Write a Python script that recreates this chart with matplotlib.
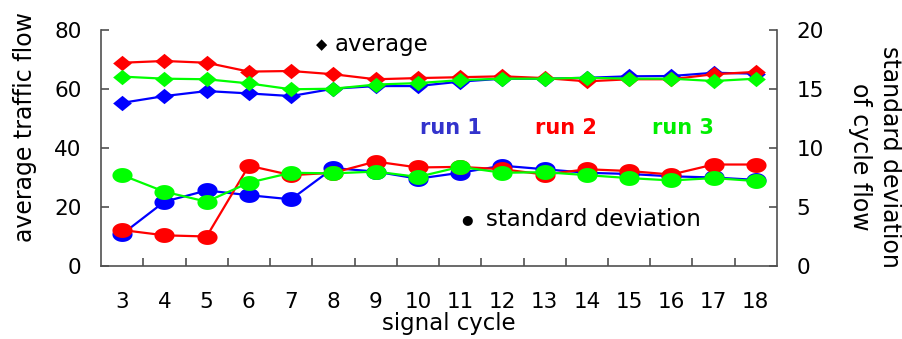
import matplotlib
matplotlib.use("Agg")
import matplotlib.pyplot as plt
from matplotlib.path import Path
import numpy as np

cycles = ["3", "4", "5", "6", "7", "8", "9", "10", "11", "12", "13", "14", "15", "16", "17", "18"]

avg_run1 = [55.3, 57.6, 59.3, 58.5, 57.6, 60.1, 61.0, 61.0, 62.5, 63.5, 63.5, 63.8, 64.3, 64.4, 65.5, 65.2]
avg_run2 = [68.9, 69.5, 68.9, 65.9, 66.1, 65.0, 63.3, 63.7, 64.0, 64.3, 63.7, 62.6, 63.3, 63.3, 65.0, 65.8]
avg_run3 = [64.2, 63.5, 63.3, 61.9, 59.9, 60.1, 61.5, 62.0, 63.0, 63.5, 63.5, 63.8, 63.5, 63.5, 62.7, 63.5]

std_run1 = [2.7, 5.45, 6.4, 6.0, 5.65, 8.3, 8.0, 7.4, 7.9, 8.5, 8.2, 7.9, 7.8, 7.6, 7.5, 7.3]
std_run2 = [3.05, 2.6, 2.5, 8.5, 7.7, 7.9, 8.85, 8.35, 8.4, 8.2, 7.75, 8.2, 8.05, 7.75, 8.6, 8.6]
std_run3 = [7.7, 6.3, 5.45, 7.06, 7.9, 7.85, 8.0, 7.55, 8.4, 7.9, 7.95, 7.7, 7.45, 7.25, 7.45, 7.2]

run_labels = ["run 1", "run 2", "run 3"]
line_colors = ["#0000ff", "#ff0000", "#00ff00"]
text_colors = ["#3333cc", "#ff0000", "#00ee00"]

plt.rcParams['font.family'] = ['DejaVu Sans']

# custom markers: flattened diamond and ellipse (the reference is horizontally stretched)
diamond = Path([(1, 0), (0, 0.82), (-1, 0), (0, -0.82), (1, 0)],
               [Path.MOVETO, Path.LINETO, Path.LINETO, Path.LINETO, Path.CLOSEPOLY])
t = np.linspace(0, 2 * np.pi, 60)
ellipse = Path(np.column_stack([np.cos(t), 0.74 * np.sin(t)]))

fig = plt.figure(figsize=(9.02, 3.39), dpi=100)
ax = fig.add_axes([101 / 902, 1 - 266 / 339, 676 / 902, 236 / 339])
ax2 = ax.twinx()

x = np.arange(len(cycles))
avgs = [avg_run1, avg_run2, avg_run3]
stds = [std_run1, std_run2, std_run3]

for vals, c in zip(avgs, line_colors):
    ax.plot(x, vals, color=c, lw=1.6, marker=diamond, markersize=13.5,
            markerfacecolor=c, markeredgecolor=c, markeredgewidth=0, zorder=3)
for vals, c in zip(stds, line_colors):
    ax2.plot(x, vals, color=c, lw=1.6, marker=ellipse, markersize=14.5,
             markerfacecolor=c, markeredgecolor=c, markeredgewidth=0, zorder=3)

ax.set_xlim(-0.5, len(cycles) - 0.5)
ax.set_ylim(0, 80)
ax2.set_ylim(0, 20)
ax.set_yticks([0, 20, 40, 60, 80])
ax2.set_yticks([0, 5, 10, 15, 20])
ax.set_xticks(x)
ax.set_xticklabels(cycles)
ax.set_xticks(np.arange(0.5, len(cycles) - 1, 1.0), minor=True)

spine_col = "#505050"
for a in (ax, ax2):
    a.spines['top'].set_visible(False)
    for s in ('left', 'right', 'bottom'):
        a.spines[s].set_color(spine_col)
        a.spines[s].set_linewidth(1.2)
ax.spines['right'].set_visible(False)
ax2.spines['left'].set_visible(False)
ax2.spines['bottom'].set_visible(False)

ax.tick_params(axis='y', direction='in', length=6, width=1.2, color=spine_col,
               labelsize=15.5, pad=14)
ax2.tick_params(axis='y', direction='in', length=6, width=1.2, color=spine_col,
                labelsize=15.5, pad=14)
ax.tick_params(axis='x', which='major', length=0, labelsize=15.5, pad=19)
ax.tick_params(axis='x', which='minor', direction='in', length=6, width=1.2,
               color=spine_col)

ax.text(-0.112, 0.589, "average traffic flow", transform=ax.transAxes,
        rotation=90, ha='center', va='center', fontsize=17)
ax.text(1.145, 0.462, "standard deviation\nof cycle flow", transform=ax.transAxes,
        rotation=270, ha='center', va='center', fontsize=17,
        multialignment='center', linespacing=1.3)
ax.text(0.515, -0.243, "signal cycle", transform=ax.transAxes,
        ha='center', va='center', fontsize=16.5)

ax.text(0.327, 0.94, "\u25c6", transform=ax.transAxes, ha='center', va='center',
        fontsize=10.5)
ax.text(0.346, 0.94, "average", transform=ax.transAxes, ha='left', va='center',
        fontsize=16.5)
ax.text(0.541, 0.195, "\u25cf", transform=ax.transAxes, ha='center', va='center',
        fontsize=9.5)
ax.text(0.569, 0.195, "standard deviation", transform=ax.transAxes, ha='left',
        va='center', fontsize=16.5)

for lab, col, xf in zip(run_labels, text_colors, [0.472, 0.642, 0.815]):
    ax.text(xf, 0.585, lab, transform=ax.transAxes, ha='left', va='center',
            fontsize=15, fontweight='bold', color=col)

fig.savefig("out.png", dpi=100)
